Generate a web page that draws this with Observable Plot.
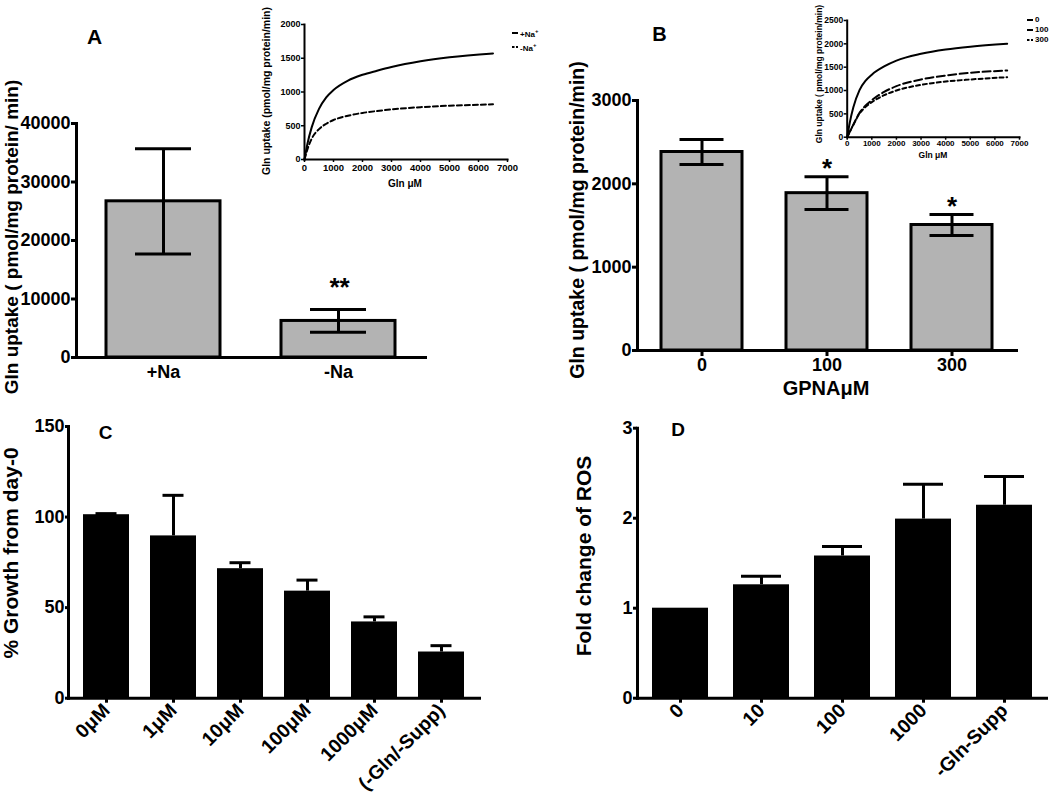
<!DOCTYPE html>
<html>
<head>
<meta charset="utf-8">
<script src="https://cdn.jsdelivr.net/npm/d3@7"></script>
<script src="https://cdn.jsdelivr.net/npm/@observablehq/plot@0.6"></script>
<style>
  body { margin: 0; background: #fff; }
  #fig { position: relative; width: 1050px; height: 808px; overflow: hidden; background: #fff;
         font-family: "Liberation Sans", Arial, Helvetica, sans-serif; font-weight: bold; color: #000; }
  .panel { position: absolute; }
  .panel svg { overflow: visible; }
  .lab { position: absolute; white-space: nowrap; line-height: 1; font-weight: bold; }
  .leg { position: absolute; white-space: nowrap; line-height: 1; font-weight: bold; display: flex; align-items: center; }
</style>
</head>
<body>
<div id="fig"></div>
<script>
// ---------------- DATA ----------------
// Panel A: Na-dependence of Gln uptake
const aCats = ["+Na", "-Na"];
const aMean = [26700, 6250];
const aErr  = [9000, 1950];
const aStar = ["", "**"];
const aTicks = [0, 10000, 20000, 30000, 40000];

// Panel A inset: kinetics
const inAGln  = [0, 100, 250, 500, 750, 1000, 1500, 2000, 2500, 3000, 4000, 5000, 6500];
const inANa   = [0, 230, 480, 750, 920, 1030, 1170, 1255, 1315, 1370, 1455, 1515, 1572];
const inANoNa = [0, 150, 310, 450, 530, 585, 648, 690, 718, 742, 775, 797, 817];
const inAXTicks = [0, 1000, 2000, 3000, 4000, 5000, 6000, 7000];
const inAYTicks = [0, 500, 1000, 1500, 2000];

// Panel B: GPNA inhibition
const bCats = ["0", "100", "300"];
const bMean = [2382, 1888, 1506];
const bErr  = [150, 196, 126];
const bStar = ["", "*", "*"];
const bTicks = [0, 1000, 2000, 3000];

// Panel B inset: kinetics
const inBGln  = [0, 100, 250, 500, 750, 1000, 1500, 2000, 3000, 4000, 5000, 6500];
const inB0    = [0, 300, 640, 1010, 1210, 1340, 1515, 1640, 1786, 1879, 1940, 2000];
const inB100  = [0, 110, 270, 521, 680, 793, 970, 1093, 1236, 1321, 1379, 1429];
const inB300  = [0, 110, 265, 507, 650, 750, 900, 1000, 1121, 1193, 1236, 1286];
const inBXTicks = [0, 1000, 2000, 3000, 4000, 5000, 6000, 7000];
const inBYTicks = [0, 500, 1000, 1500, 2000, 2500];

// Panel C: growth
const cCats = ["0μM", "1μM", "10μM", "100μM", "1000μM", "(-Gln/-Supp)"];
const cMean = [101.3, 89.6, 71.5, 59.1, 42.1, 25.5];
const cErr  = [0.6, 22.4, 3.3, 6.1, 2.8, 3.5];
const cTicks = [0, 50, 100, 150];

// Panel D: ROS
const dCats = ["0", "10", "100", "1000", "-Gln-Supp"];
const dMean = [1.0, 1.26, 1.58, 1.99, 2.144];
const dErr  = [0, 0.095, 0.105, 0.388, 0.32];
const dTicks = [0, 1, 2, 3];

// ---------------- HELPERS ----------------
const FONT = "'Liberation Sans', Arial, Helvetica, sans-serif";
const fig = document.getElementById("fig");
const fmt = d => String(d);

function place(svg, left, top) {
  const div = document.createElement("div");
  div.className = "panel";
  div.style.left = left + "px";
  div.style.top = top + "px";
  div.appendChild(svg);
  fig.appendChild(div);
}
function label(html, cx, cy, size, rotate) {
  const div = document.createElement("div");
  div.className = "lab";
  div.innerHTML = html;
  div.style.left = cx + "px";
  div.style.top = cy + "px";
  div.style.fontSize = size + "px";
  div.style.transform = "translate(-50%,-50%)" + (rotate ? " rotate(-90deg)" : "");
  fig.appendChild(div);
}
function legend(html, x, cy, size, dash) {
  const div = document.createElement("div");
  div.className = "leg";
  div.style.left = x + "px";
  div.style.top = (cy - size / 2) + "px";
  div.style.fontSize = size + "px";
  div.style.height = size + "px";
  div.innerHTML = `<svg width="6" height="4" style="margin-right:2px"><line x1="0" y1="2" x2="6" y2="2" stroke="black" stroke-width="2" ${dash ? `stroke-dasharray="${dash}"` : ""}/></svg><span>${html}</span>`;
  fig.appendChild(div);
}
const rows = (cats, mean, err, star) => cats.map((c, i) => ({c, m: mean[i], lo: mean[i] - err[i], hi: mean[i] + err[i], s: star ? star[i] : ""}));
const series = (xs, ys) => xs.map((x, i) => ({x, y: ys[i]}));
const baseStyle = {fontFamily: FONT, fontWeight: "bold", background: "transparent", overflow: "visible", color: "black"};

// ---------------- PANEL A ----------------
const aData = rows(aCats, aMean, aErr, aStar);
place(Plot.plot({
  width: 450, height: 400,
  marginLeft: 76, marginRight: 25, marginTop: 123, marginBottom: 43,
  style: baseStyle,
  x: {domain: aCats, paddingInner: 0.349, paddingOuter: 0.169},
  y: {domain: [0, 40000]},
  marks: [
    Plot.barY(aData, {x: "c", y: "m", fill: "#b3b3b3", stroke: "black", strokeWidth: 3}),
    Plot.ruleX(aData, {x: "c", y1: "lo", y2: "hi", stroke: "black", strokeWidth: 3}),
    Plot.tickY(aData, {x: "c", y: "hi", stroke: "black", strokeWidth: 3, insetLeft: 29, insetRight: 29}),
    Plot.tickY(aData, {x: "c", y: "lo", stroke: "black", strokeWidth: 3, insetLeft: 29, insetRight: 29}),
    Plot.text(aData, {x: "c", y: "hi", text: "s", dy: -22, fontSize: 26, fontStyle: "italic", fontWeight: "bold"}),
    Plot.axisY({ticks: aTicks, tickFormat: fmt, tickSize: 5, tickPadding: 1, strokeWidth: 3, fontSize: 18, fontWeight: "bold", label: null}),
    Plot.axisX({tickSize: 0, tickPadding: 8, fontSize: 18, fontWeight: "bold", label: null}),
    Plot.frame({anchor: "left", strokeWidth: 3}),
    Plot.frame({anchor: "bottom", strokeWidth: 3})
  ]
}), 0, 0);
label("A", 94.5, 36, 21);
label("Gln uptake ( pmol/mg protein/ min)", 11, 237, 19, true);

// ---------------- PANEL B ----------------
const bData = rows(bCats, bMean, bErr, bStar);
place(Plot.plot({
  width: 510, height: 410,
  marginLeft: 107, marginRight: 24, marginTop: 100, marginBottom: 60,
  style: baseStyle,
  x: {domain: bCats, paddingInner: 0.355, paddingOuter: 0.187},
  y: {domain: [0, 3000]},
  marks: [
    Plot.barY(bData, {x: "c", y: "m", fill: "#b3b3b3", stroke: "black", strokeWidth: 3}),
    Plot.ruleX(bData, {x: "c", y1: "lo", y2: "hi", stroke: "black", strokeWidth: 3}),
    Plot.tickY(bData, {x: "c", y: "hi", stroke: "black", strokeWidth: 3, insetLeft: 18.5, insetRight: 18.5}),
    Plot.tickY(bData, {x: "c", y: "lo", stroke: "black", strokeWidth: 3, insetLeft: 18.5, insetRight: 18.5}),
    Plot.text(bData, {x: "c", y: "hi", text: "s", dy: -8, fontSize: 26, fontWeight: "bold"}),
    Plot.axisY({ticks: bTicks, tickFormat: fmt, tickSize: 5, tickPadding: 1, strokeWidth: 3, fontSize: 18, fontWeight: "bold", label: null}),
    Plot.axisX({tickSize: 6, tickPadding: 2, strokeWidth: 3, fontSize: 18, fontWeight: "bold", label: null}),
    Plot.frame({anchor: "left", strokeWidth: 3}),
    Plot.frame({anchor: "bottom", strokeWidth: 3})
  ]
}), 530, 0);
label("B", 659.5, 34, 20);
label("Gln uptake ( pmol/mg protein/min)", 578, 220, 19.5, true);
label("GPNAμM", 826, 388, 20);

// ---------------- PANEL C ----------------
const cData = rows(cCats, cMean, cErr);
place(Plot.plot({
  width: 500, height: 398,
  marginLeft: 68, marginRight: 21, marginTop: 16, marginBottom: 110.3,
  style: baseStyle,
  x: {domain: cCats, paddingInner: 0.306, paddingOuter: 0.19},
  y: {domain: [0, 150]},
  marks: [
    Plot.barY(cData, {x: "c", y: "m", fill: "black"}),
    Plot.ruleX(cData, {x: "c", y1: "m", y2: "hi", stroke: "black", strokeWidth: 3}),
    Plot.tickY(cData, {x: "c", y: "hi", stroke: "black", strokeWidth: 3, insetLeft: 12.5, insetRight: 12.5}),
    Plot.axisY({ticks: cTicks, tickFormat: fmt, tickSize: 3, tickPadding: 1, strokeWidth: 3, fontSize: 18, fontWeight: "bold", label: null}),
    Plot.axisX({tickSize: 5, tickPadding: 4, tickRotate: -45, textAnchor: "end", strokeWidth: 3, fontSize: 19.5, fontWeight: "bold", label: null}),
    Plot.frame({anchor: "left", strokeWidth: 3}),
    Plot.frame({anchor: "bottom", strokeWidth: 3})
  ]
}), 0, 410);
label("C", 105.5, 432, 19);
label("% Growth from day-0", 10, 553, 21, true);

// ---------------- PANEL D ----------------
const dData = rows(dCats, dMean, dErr);
place(Plot.plot({
  width: 520, height: 398,
  marginLeft: 107, marginRight: 4, marginTop: 17.7, marginBottom: 110.3,
  style: baseStyle,
  x: {domain: dCats, paddingInner: 0.311, paddingOuter: 0.172},
  y: {domain: [0, 3]},
  marks: [
    Plot.barY(dData, {x: "c", y: "m", fill: "black"}),
    Plot.ruleX(dData.filter(d => d.hi > d.m), {x: "c", y1: "m", y2: "hi", stroke: "black", strokeWidth: 3}),
    Plot.tickY(dData.filter(d => d.hi > d.m), {x: "c", y: "hi", stroke: "black", strokeWidth: 3, insetLeft: 8, insetRight: 8}),
    Plot.axisY({ticks: dTicks, tickFormat: fmt, tickSize: 4, tickPadding: 1, strokeWidth: 3, fontSize: 18, fontWeight: "bold", label: null}),
    Plot.axisX({tickSize: 5, tickPadding: 4, tickRotate: -45, textAnchor: "end", strokeWidth: 3, fontSize: 19.5, fontWeight: "bold", label: null}),
    Plot.frame({anchor: "left", strokeWidth: 3}),
    Plot.frame({anchor: "bottom", strokeWidth: 3})
  ]
}), 530, 410);
label("D", 678, 428.5, 19);
label("Fold change of ROS", 583, 556, 21, true);

// ---------------- INSET A ----------------
place(Plot.plot({
  width: 290, height: 195,
  marginLeft: 44, marginRight: 43, marginTop: 24, marginBottom: 36,
  style: baseStyle,
  x: {domain: [0, 7000]},
  y: {domain: [0, 2000]},
  marks: [
    Plot.line(series(inAGln, inANa), {x: "x", y: "y", stroke: "black", strokeWidth: 2, curve: "monotone-x"}),
    Plot.line(series(inAGln, inANoNa), {x: "x", y: "y", stroke: "black", strokeWidth: 2, strokeDasharray: "5,3", curve: "monotone-x"}),
    Plot.axisY({ticks: inAYTicks, tickFormat: fmt, tickSize: 3, tickPadding: 1, strokeWidth: 1.5, fontSize: 9, fontWeight: "bold", label: null}),
    Plot.axisX({ticks: inAXTicks, tickFormat: fmt, tickSize: 3, tickPadding: 2, strokeWidth: 1.5, fontSize: 9.5, fontWeight: "bold", label: null}),
    Plot.frame({anchor: "left", strokeWidth: 2}),
    Plot.frame({anchor: "bottom", strokeWidth: 2})
  ]
}), 260, 0);
label("Gln uptake (pmol/mg protein/min)", 266, 91, 10.5, true);
label("Gln μM", 405, 184, 10);
legend("+Na<sup style='font-size:6px'>+</sup>", 512, 33, 8, null);
legend("-Na<sup style='font-size:6px'>+</sup>", 512, 47, 8, "2.5,1.5");

// ---------------- INSET B ----------------
place(Plot.plot({
  width: 250, height: 165,
  marginLeft: 46.7, marginRight: 31, marginTop: 20, marginBottom: 28.3,
  style: baseStyle,
  x: {domain: [0, 7000]},
  y: {domain: [0, 2500]},
  marks: [
    Plot.line(series(inBGln, inB0), {x: "x", y: "y", stroke: "black", strokeWidth: 2, curve: "monotone-x"}),
    Plot.line(series(inBGln, inB100), {x: "x", y: "y", stroke: "black", strokeWidth: 2, strokeDasharray: "8,3.5", curve: "monotone-x"}),
    Plot.line(series(inBGln, inB300), {x: "x", y: "y", stroke: "black", strokeWidth: 2, strokeDasharray: "4,3", curve: "monotone-x"}),
    Plot.axisY({ticks: inBYTicks, tickFormat: fmt, tickSize: 3, tickPadding: 1, strokeWidth: 1.5, fontSize: 8.5, fontWeight: "bold", label: null}),
    Plot.axisX({ticks: inBXTicks, tickFormat: fmt, tickSize: 3, tickPadding: 0, strokeWidth: 1.5, fontSize: 8, fontWeight: "bold", label: null}),
    Plot.frame({anchor: "left", strokeWidth: 2}),
    Plot.frame({anchor: "bottom", strokeWidth: 2})
  ]
}), 800, 0);
label("Gln uptake ( pmol/mg protein/min)", 819, 74, 8.5, true);
label("Gln μM", 933, 155, 8.5);
legend("0", 1027, 20, 8, null);
legend("100", 1027, 30, 8, null);
legend("300", 1027, 40, 8, "2.5,1.5");
</script>
</body>
</html>
